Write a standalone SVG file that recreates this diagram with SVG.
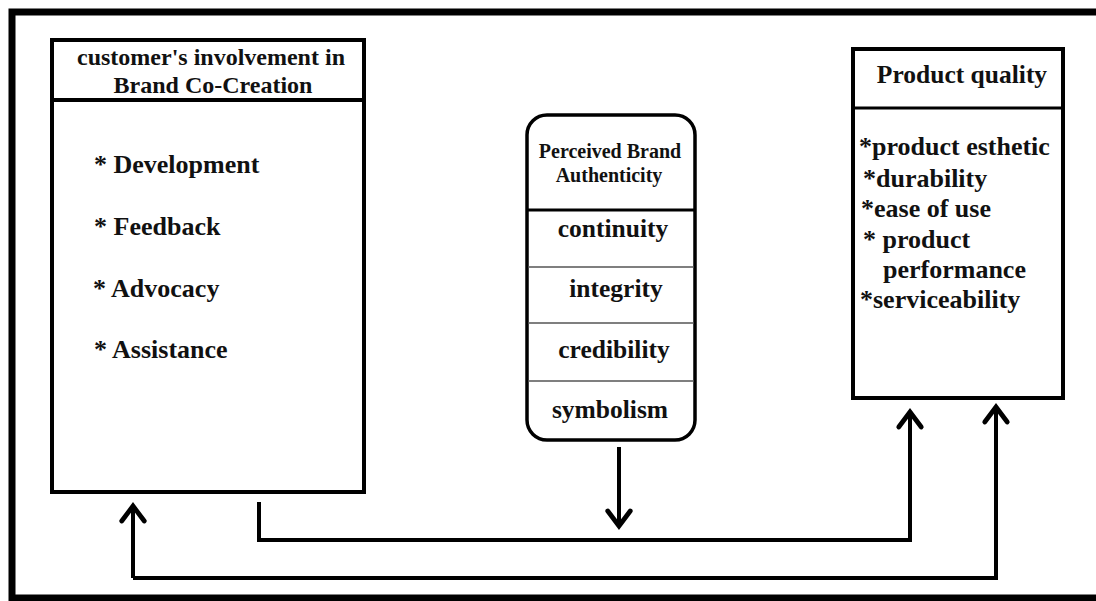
<svg xmlns="http://www.w3.org/2000/svg" width="1096" height="601" viewBox="0 0 1096 601">
  <style>
    .t { font-family: "Liberation Serif", "Times New Roman", serif; font-weight: bold; fill: #111; }
    .box { fill: #fff; stroke: #000; }
    .conn { fill: none; stroke: #000; stroke-width: 4; stroke-linejoin: miter; }
  </style>
  <defs>
    <marker id="arr" markerUnits="userSpaceOnUse" markerWidth="30" markerHeight="30" viewBox="-16 -12 20 24" refX="0" refY="0" orient="auto">
      <path d="M -12,-9 L 0,0 L -12,9" fill="none" stroke="#000" stroke-width="3.8" stroke-linecap="round" stroke-linejoin="miter"/>
    </marker>
  </defs>
  <rect x="0" y="0" width="1096" height="601" fill="#fff"/>
  <g id="frame">
    <rect x="12" y="12" width="1100" height="586" fill="none" stroke="#000" stroke-width="7"/>
  </g>

  <g id="cocreation">
    <rect class="box" x="52" y="40" width="312" height="452" stroke-width="4"/>
    <line x1="52" y1="100" x2="364" y2="100" stroke="#000" stroke-width="4"/>
    <text class="t" x="211" y="65" font-size="24" text-anchor="middle">customer's involvement in</text>
    <text class="t" x="213" y="93" font-size="24" text-anchor="middle">Brand Co-Creation</text>
    <text class="t" x="94" y="173" font-size="26">* Development</text>
    <text class="t" x="94" y="235" font-size="26">* Feedback</text>
    <text class="t" x="93" y="297" font-size="26">* Advocacy</text>
    <text class="t" x="94" y="358" font-size="26">* Assistance</text>
  </g>

  <g id="authenticity">
    <rect class="box" x="527" y="115" width="168" height="325" rx="20" ry="20" stroke-width="3.5"/>
    <line x1="527" y1="210" x2="695" y2="210" stroke="#000" stroke-width="3"/>
    <line x1="528" y1="267" x2="694" y2="267" stroke="#555" stroke-width="1.5"/>
    <line x1="528" y1="323" x2="694" y2="323" stroke="#555" stroke-width="1.5"/>
    <line x1="528" y1="381" x2="694" y2="381" stroke="#555" stroke-width="1.5"/>
    <text class="t" x="610" y="158" font-size="20" text-anchor="middle">Perceived Brand</text>
    <text class="t" x="609" y="182" font-size="20" text-anchor="middle">Authenticity</text>
    <text class="t" x="613" y="237" font-size="25.5" text-anchor="middle">continuity</text>
    <text class="t" x="616" y="297" font-size="25.5" text-anchor="middle">integrity</text>
    <text class="t" x="614" y="358" font-size="25.5" text-anchor="middle">credibility</text>
    <text class="t" x="610" y="418" font-size="25.5" text-anchor="middle">symbolism</text>
  </g>

  <g id="quality">
    <rect class="box" x="853" y="49" width="210" height="349" stroke-width="4"/>
    <line x1="853" y1="108" x2="1063" y2="108" stroke="#000" stroke-width="3"/>
    <text class="t" x="962" y="83" font-size="25.5" text-anchor="middle">Product quality</text>
    <text class="t" x="859" y="155" font-size="26">*product esthetic</text>
    <text class="t" x="863" y="187" font-size="26">*durability</text>
    <text class="t" x="861" y="217" font-size="26">*ease of use</text>
    <text class="t" x="863" y="248" font-size="26">* product</text>
    <text class="t" x="883" y="278" font-size="26">performance</text>
    <text class="t" x="860" y="308" font-size="26">*serviceability</text>
  </g>

  <g id="connectors">
    <path class="conn" d="M 259,502 L 259,540 L 910,540 L 910,412" marker-end="url(#arr)"/>
    <path class="conn" d="M 133,578 L 996,578 L 996,407" marker-end="url(#arr)"/>
    <path class="conn" d="M 133,578 L 133,506" marker-end="url(#arr)"/>
    <path class="conn" d="M 619,447 L 619,526" stroke-width="3.5" marker-end="url(#arr)"/>
  </g>
</svg>
